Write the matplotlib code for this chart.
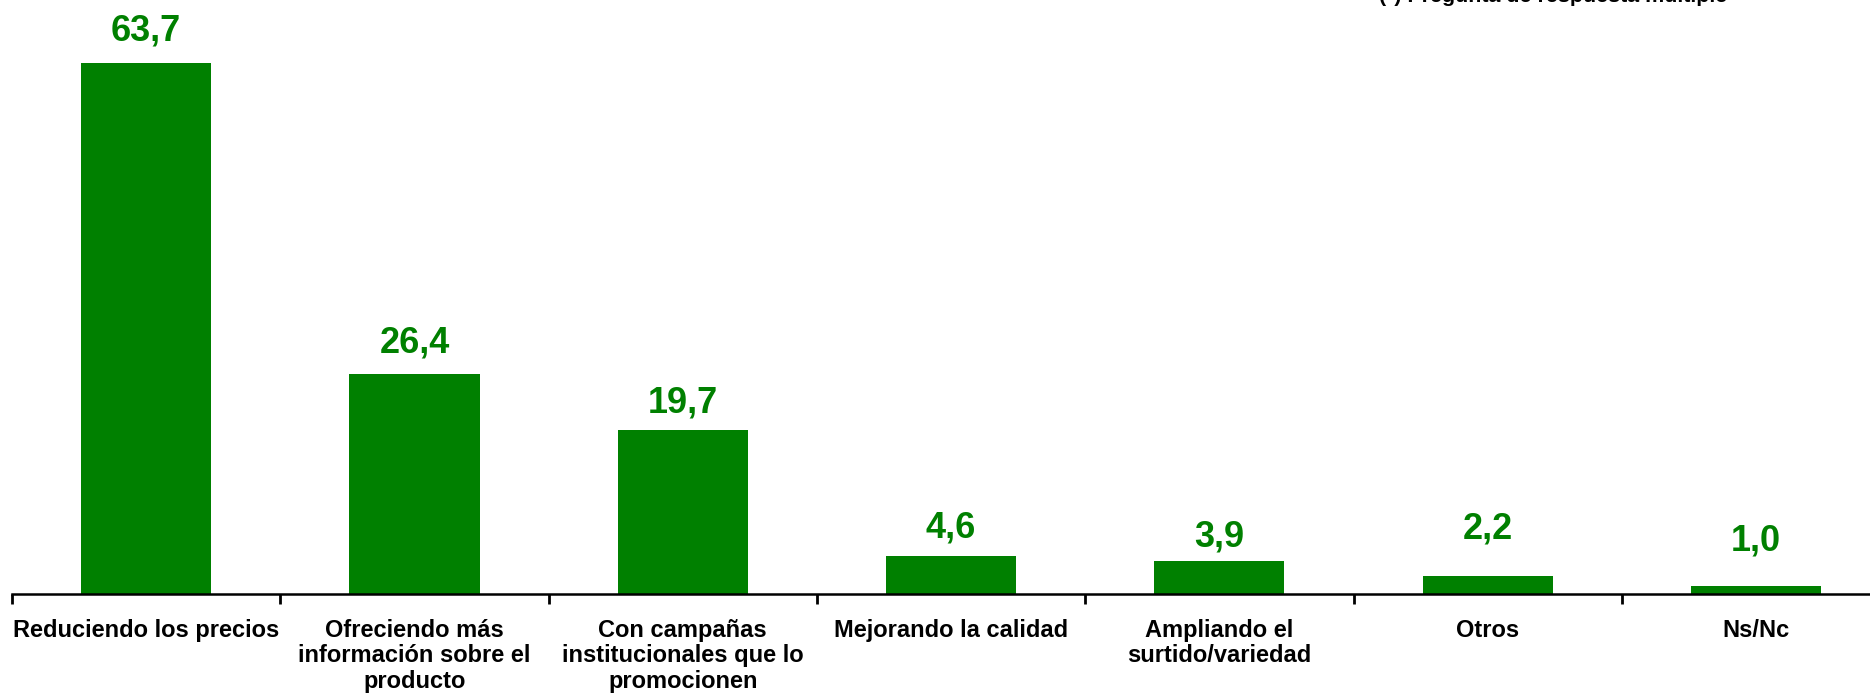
import matplotlib
matplotlib.use("Agg")
import matplotlib.pyplot as plt
import numpy as np

plt.rcParams['font.family'] = ['Liberation Sans', 'DejaVu Sans']

categories = [
    "Reduciendo los precios",
    "Ofreciendo más\ninformación sobre el\nproducto",
    "Con campañas\ninstitucionales que lo\npromocionen",
    "Mejorando la calidad",
    "Ampliando el\nsurtido/variedad",
    "Otros",
    "Ns/Nc",
]
values = [63.7, 26.4, 19.7, 4.6, 3.9, 2.2, 1.0]
note = "(*) Pregunta de respuesta múltiple"

# gap in pixels between bar top and its value label
label_gap = [22, 21, 17, 18, 15, 37, 35]

green = '#008000'

fig = plt.figure(figsize=(18.7, 7), dpi=100)
# axis runs a little past the right edge of the figure
ax = fig.add_axes([12 / 1870, 106 / 700, 7 * 268.3 / 1870, 594 / 700])

x = np.arange(len(categories))
bars = ax.bar(x, values, width=0.485, color=green)

for b, v, gap in zip(bars, values, label_gap):
    ax.annotate(f"{v:.1f}".replace('.', ','),
                xy=(b.get_x() + b.get_width() / 2, b.get_height()),
                xytext=(0, gap), textcoords='offset pixels',
                ha='center', va='baseline',
                fontsize=26, fontweight='bold', color=green)

ax.set_xlim(-0.5, len(categories) - 0.5)
ax.set_ylim(0, 594 / 8.336)

# boundary ticks as major, labels on minor ticks at bar centres
ax.set_xticks(np.arange(len(categories) + 1) - 0.5)
ax.set_xticklabels([])
ax.set_xticks(x, minor=True)
ax.set_xticklabels(categories, minor=True, fontsize=17, fontweight='bold',
                   linespacing=1.13)
ax.tick_params(axis='x', which='major', length=7, width=2, direction='out')
ax.tick_params(axis='x', which='minor', length=0, pad=18)
ax.set_yticks([])

for s in ('top', 'right', 'left'):
    ax.spines[s].set_visible(False)
ax.spines['bottom'].set_linewidth(1.8)

fig.text(1379 / 1870, 1 - 2 / 700, note, ha='left', va='baseline',
         fontsize=15.4, fontweight='bold', color='black')

fig.savefig('out.png', dpi=100)
